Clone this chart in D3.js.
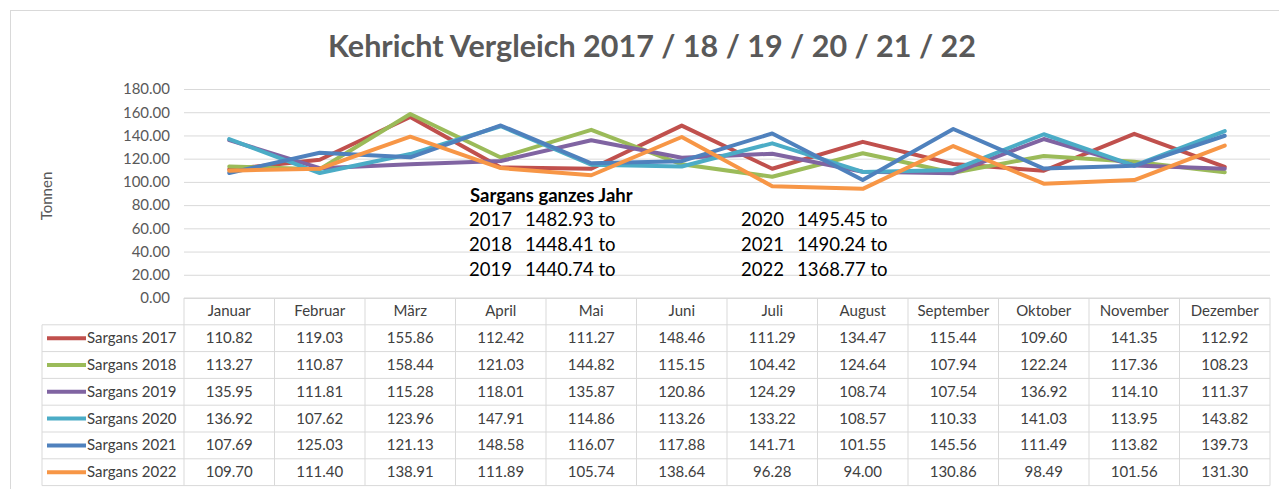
<!DOCTYPE html>
<html>
<head>
<meta charset="utf-8">
<script src="https://cdn.jsdelivr.net/npm/d3@7"></script>
<style>
  body { margin: 0; background: #fff; }
  svg { display: block; font-family: Lato, "Open Sans", sans-serif; }
</style>
</head>
<body>
<svg class="svg-chart"></svg>
<script>
// Kehricht line chart with data table below
var months = ["Januar", "Februar", "März", "April", "Mai", "Juni", "Juli",
  "August", "September", "Oktober", "November", "Dezember"];

var seriesNames = ["Sargans 2017", "Sargans 2018", "Sargans 2019",
  "Sargans 2020", "Sargans 2021", "Sargans 2022"];

var data2017 = [110.82, 119.03, 155.86, 112.42, 111.27, 148.46, 111.29, 134.47, 115.44, 109.60, 141.35, 112.92];
var data2018 = [113.27, 110.87, 158.44, 121.03, 144.82, 115.15, 104.42, 124.64, 107.94, 122.24, 117.36, 108.23];
var data2019 = [135.95, 111.81, 115.28, 118.01, 135.87, 120.86, 124.29, 108.74, 107.54, 136.92, 114.10, 111.37];
var data2020 = [136.92, 107.62, 123.96, 147.91, 114.86, 113.26, 133.22, 108.57, 110.33, 141.03, 113.95, 143.82];
var data2021 = [107.69, 125.03, 121.13, 148.58, 116.07, 117.88, 141.71, 101.55, 145.56, 111.49, 113.82, 139.73];
var data2022 = [109.70, 111.40, 138.91, 111.89, 105.74, 138.64, 96.28, 94.00, 130.86, 98.49, 101.56, 131.30];

var yTicks = [0, 20, 40, 60, 80, 100, 120, 140, 160, 180];

var totalYears = ["2017", "2018", "2019", "2020", "2021", "2022"];
var totalValues = ["1482.93", "1448.41", "1440.74", "1495.45", "1490.24", "1368.77"];

var colors = ["#C0504D", "#9BBB59", "#8064A2", "#4BACC6", "#4F81BD", "#F79646"];

var allSeries = [data2017, data2018, data2019, data2020, data2021, data2022];

var W = 1279, H = 489;
var plot = {left: 184, right: 1270, top: 89, bottom: 298};
var rowH = 26.8;

var svg = d3.select(".svg-chart")
    .attr("width", W)
    .attr("height", H);

// outer chart frame
svg.append("rect")
    .attr("x", 10.5).attr("y", 10.5)
    .attr("width", W).attr("height", H)
    .style("fill", "none").style("stroke", "#d9d9d9");

// title
svg.append("text")
    .attr("x", 652).attr("y", 57)
    .attr("text-anchor", "middle")
    .style("font-size", "30.5px").style("font-weight", "bold")
    .style("fill", "#595959")
    .text("Kehricht Vergleich 2017 / 18 / 19 / 20 / 21 / 22");

var x = d3.scaleBand()
    .domain(months)
    .range([plot.left, plot.right]);

var y = d3.scaleLinear()
    .domain([0, 180])
    .range([plot.bottom, plot.top]);

// grid lines
var yAxis = d3.axisLeft(y)
    .tickValues(yTicks)
    .tickSize(-(plot.right - plot.left))
    .tickPadding(14)
    .tickFormat(d3.format(".2f"));

var yg = svg.append("g")
    .attr("transform", "translate(" + plot.left + ",0)")
    .call(yAxis);
yg.select(".domain").remove();
yg.selectAll("line").style("stroke", "#d9d9d9");
yg.selectAll("text")
    .style("font-size", "15px")
    .style("fill", "#595959")
    .style("font-family", "Lato, 'Open Sans', sans-serif");

// y axis title
svg.append("text")
    .attr("transform", "translate(52,196) rotate(-90)")
    .attr("text-anchor", "middle")
    .style("font-size", "15px").style("fill", "#595959")
    .text("Tonnen");

// lines
var line = d3.line()
    .x(function(d, i) { return x(months[i]) + x.bandwidth() / 2; })
    .y(function(d) { return y(d); });

svg.selectAll(".series")
    .data(allSeries)
    .enter().append("path")
    .attr("class", "series")
    .attr("d", line)
    .style("fill", "none")
    .style("stroke", function(d, i) { return colors[i]; })
    .style("stroke-width", 4)
    .style("stroke-linejoin", "round")
    .style("stroke-linecap", "round");

// annotation box with yearly totals
var note = svg.append("g").style("font-size", "18.5px").style("fill", "#000");
note.append("text")
    .attr("x", 470).attr("y", 202)
    .style("font-weight", "bold")
    .text("Sargans ganzes Jahr");
totalYears.forEach(function(yr, i) {
  var col = Math.floor(i / 3), row = i % 3;
  var bx = col === 0 ? 469 : 741;
  var by = 226 + row * 25;
  note.append("text").attr("x", bx).attr("y", by).text(yr);
  note.append("text").attr("x", bx + 56).attr("y", by).text(totalValues[i] + " to");
});

// data table
var tbl = svg.append("g");
var legendLeft = 42;
var tTop = plot.bottom;
var tBottom = tTop + rowH * 7;

function hline(x1, x2, yy) {
  tbl.append("line")
      .attr("x1", x1).attr("x2", x2).attr("y1", yy).attr("y2", yy)
      .style("stroke", "#d9d9d9");
}
function vline(xx, y1, y2) {
  tbl.append("line")
      .attr("x1", xx).attr("x2", xx).attr("y1", y1).attr("y2", y2)
      .style("stroke", "#d9d9d9");
}

hline(plot.left, plot.right, tTop);
for (var r = 1; r <= 7; r++) {
  hline(legendLeft, plot.right, tTop + rowH * r);
}
vline(legendLeft, tTop + rowH, tBottom);
months.forEach(function(m) { vline(x(m), tTop, tBottom); });
vline(plot.right, tTop, tBottom);

// header
tbl.selectAll(".hdr")
    .data(months)
    .enter().append("text")
    .attr("class", "hdr")
    .attr("x", function(d) { return x(d) + x.bandwidth() / 2; })
    .attr("y", tTop + rowH / 2 + 5)
    .attr("text-anchor", "middle")
    .style("font-size", "15px").style("fill", "#404040")
    .text(function(d) { return d; });

// rows
allSeries.forEach(function(vals, si) {
  var ry = tTop + rowH * (si + 1);
  tbl.append("line")
      .attr("x1", 47).attr("x2", 86)
      .attr("y1", ry + rowH / 2).attr("y2", ry + rowH / 2)
      .style("stroke", colors[si]).style("stroke-width", 4);
  tbl.append("text")
      .attr("x", 87).attr("y", ry + rowH / 2 + 5)
      .style("font-size", "15px").style("fill", "#404040")
      .text(seriesNames[si]);
  tbl.selectAll(".v" + si)
      .data(vals)
      .enter().append("text")
      .attr("class", "v" + si)
      .attr("x", function(d, i) { return x(months[i]) + x.bandwidth() / 2; })
      .attr("y", ry + rowH / 2 + 5)
      .attr("text-anchor", "middle")
      .style("font-size", "15px").style("fill", "#404040")
      .text(function(d) { return d.toFixed(2); });
});
</script>
</body>
</html>
